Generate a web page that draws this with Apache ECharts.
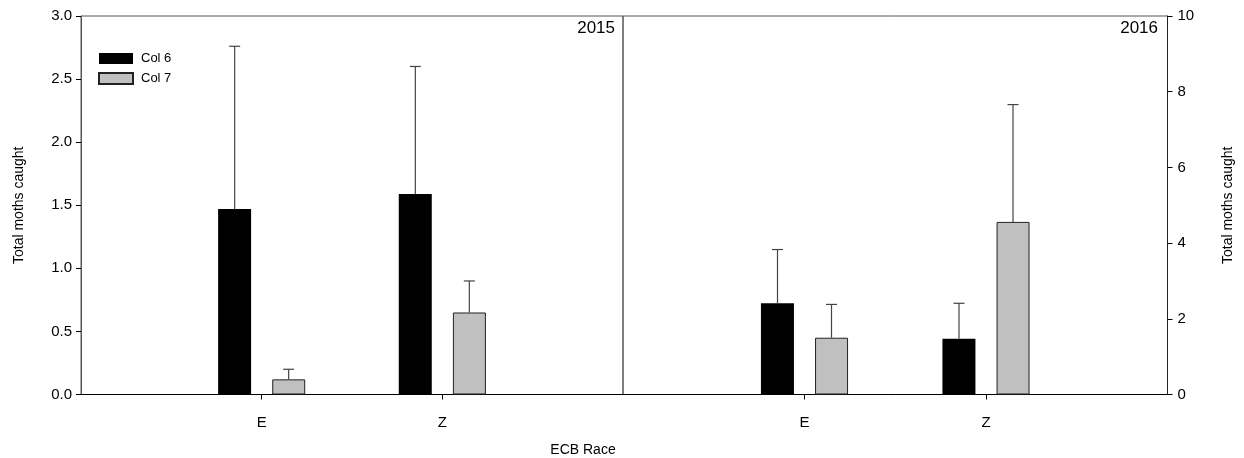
<!DOCTYPE html>
<html>
<head>
<meta charset="utf-8">
<script src="https://cdn.jsdelivr.net/npm/echarts@6/dist/echarts.min.js"></script>
<style>
  html, body { margin: 0; padding: 0; background: #fff; }
  #chart { width: 1244px; height: 458px; }
</style>
</head>
<body>
<div id="chart"></div>
<script>
// categories (padded so E and Z sit at 1/3 and 2/3 of each panel)
const races = ['', 'E', 'Z', ''];

// 2015 panel
const col6_2015 = ['-', 1.47, 1.59, '-'];
const col6_2015Err = [1.29, 1.01];
const col7_2015 = ['-', 0.12, 0.65, '-'];
const col7_2015Err = [0.08, 0.25];

// 2016 panel
const col6_2016 = ['-', 2.41, 1.47, '-'];
const col6_2016Err = [1.42, 0.94];
const col7_2016 = ['-', 1.50, 4.56, '-'];
const col7_2016Err = [0.88, 3.10];

const FONT = '"Liberation Sans", Arial, sans-serif';
const BAR_W = 33;
const OFFSET = 27; // half of (bar width + gap)

function errData(vals, errs) {
  let out = [];
  for (let i = 1; i <= 2; i++) {
    out.push([i, vals[i], errs[i - 1]]);
  }
  return out;
}

function errSeries(idx, vals, errs, shift) {
  return {
    type: 'custom',
    xAxisIndex: idx,
    yAxisIndex: idx,
    z: 5,
    silent: true,
    data: errData(vals, errs),
    encode: { x: 0, y: 1 },
    renderItem: function (params, api) {
      const p0 = api.coord([api.value(0), api.value(1)]);
      const p1 = api.coord([api.value(0), api.value(1) + api.value(2)]);
      const x = p0[0] + shift;
      const style = { stroke: '#444', lineWidth: 1.2 };
      return {
        type: 'group',
        children: [
          { type: 'line', shape: { x1: x, y1: p0[1], x2: x, y2: p1[1] }, style: style },
          { type: 'line', shape: { x1: x - 5.5, y1: p1[1], x2: x + 5.5, y2: p1[1] }, style: style }
        ]
      };
    }
  };
}

function barSeries(name, idx, data, color, border) {
  return {
    name: name,
    type: 'bar',
    xAxisIndex: idx,
    yAxisIndex: idx,
    barWidth: BAR_W,
    barGap: '64%',
    data: data,
    itemStyle: {
      color: color,
      borderColor: border,
      borderWidth: border ? 1 : 0
    }
  };
}

function xAxis(idx) {
  return {
    type: 'category',
    gridIndex: idx,
    data: races,
    boundaryGap: false,
    axisLine: { lineStyle: { color: '#000', width: 1 } },
    axisTick: {
      length: 5,
      interval: (i) => i === 1 || i === 2,
      lineStyle: { color: '#000' }
    },
    axisLabel: {
      interval: (i, v) => v !== '',
      color: '#000',
      fontFamily: FONT,
      fontSize: 15,
      margin: 21
    },
    splitLine: { show: false }
  };
}

const chart = echarts.init(document.getElementById('chart'));

chart.setOption({
  animation: false,
  textStyle: { fontFamily: FONT },
  grid: [
    { left: 81, top: 16, width: 542, height: 378.5, show: true, borderColor: '#555', borderWidth: 1 },
    { left: 623, top: 16, width: 544.5, height: 378.5, show: true, borderColor: '#555', borderWidth: 1 }
  ],
  title: [
    { text: '2015', right: 629, top: 20, padding: 0,
      textStyle: { fontSize: 17, fontWeight: 'normal', color: '#000', fontFamily: FONT } },
    { text: '2016', right: 86, top: 20, padding: 0,
      textStyle: { fontSize: 17, fontWeight: 'normal', color: '#000', fontFamily: FONT } },
    { text: 'ECB Race', left: 583, top: 443, textAlign: 'center', padding: 0,
      textStyle: { fontSize: 14, fontWeight: 'normal', color: '#000', fontFamily: FONT } }
  ],
  legend: {
    data: ['Col 6', 'Col 7'],
    orient: 'vertical',
    left: 98,
    top: 52,
    padding: 0,
    itemWidth: 34,
    itemHeight: 11,
    itemGap: 7,
    icon: 'rect',
    textStyle: { fontSize: 13, color: '#000', fontFamily: FONT, padding: [0, 0, 0, 3] }
  },
  xAxis: [xAxis(0), xAxis(1)],
  yAxis: [
    {
      type: 'value',
      gridIndex: 0,
      min: 0,
      max: 3,
      interval: 0.5,
      name: 'Total moths caught',
      nameLocation: 'middle',
      nameGap: 55,
      nameTextStyle: { fontSize: 14, color: '#000', fontFamily: FONT },
      axisLine: { show: true, lineStyle: { color: '#555' } },
      axisTick: { show: true, length: 5, lineStyle: { color: '#000' } },
      axisLabel: { formatter: (v) => v.toFixed(1), color: '#000', fontSize: 15, fontFamily: FONT, margin: 9 },
      splitLine: { show: false }
    },
    {
      type: 'value',
      gridIndex: 1,
      position: 'right',
      min: 0,
      max: 10,
      interval: 2,
      name: 'Total moths caught',
      nameLocation: 'middle',
      nameGap: 54,
      nameTextStyle: { fontSize: 14, color: '#000', fontFamily: FONT },
      axisLine: { show: true, lineStyle: { color: '#222' } },
      axisTick: { show: true, length: 5, lineStyle: { color: '#000' } },
      axisLabel: { color: '#000', fontSize: 15, fontFamily: FONT, margin: 10 },
      splitLine: { show: false }
    }
  ],
  series: [
    barSeries('Col 6', 0, col6_2015, '#000', null),
    barSeries('Col 7', 0, col7_2015, '#c0c0c0', '#222'),
    barSeries('Col 6', 1, col6_2016, '#000', null),
    barSeries('Col 7', 1, col7_2016, '#c0c0c0', '#222'),
    errSeries(0, col6_2015, col6_2015Err, -OFFSET),
    errSeries(0, col7_2015, col7_2015Err, OFFSET),
    errSeries(1, col6_2016, col6_2016Err, -OFFSET),
    errSeries(1, col7_2016, col7_2016Err, OFFSET)
  ]
});
</script>
</body>
</html>
